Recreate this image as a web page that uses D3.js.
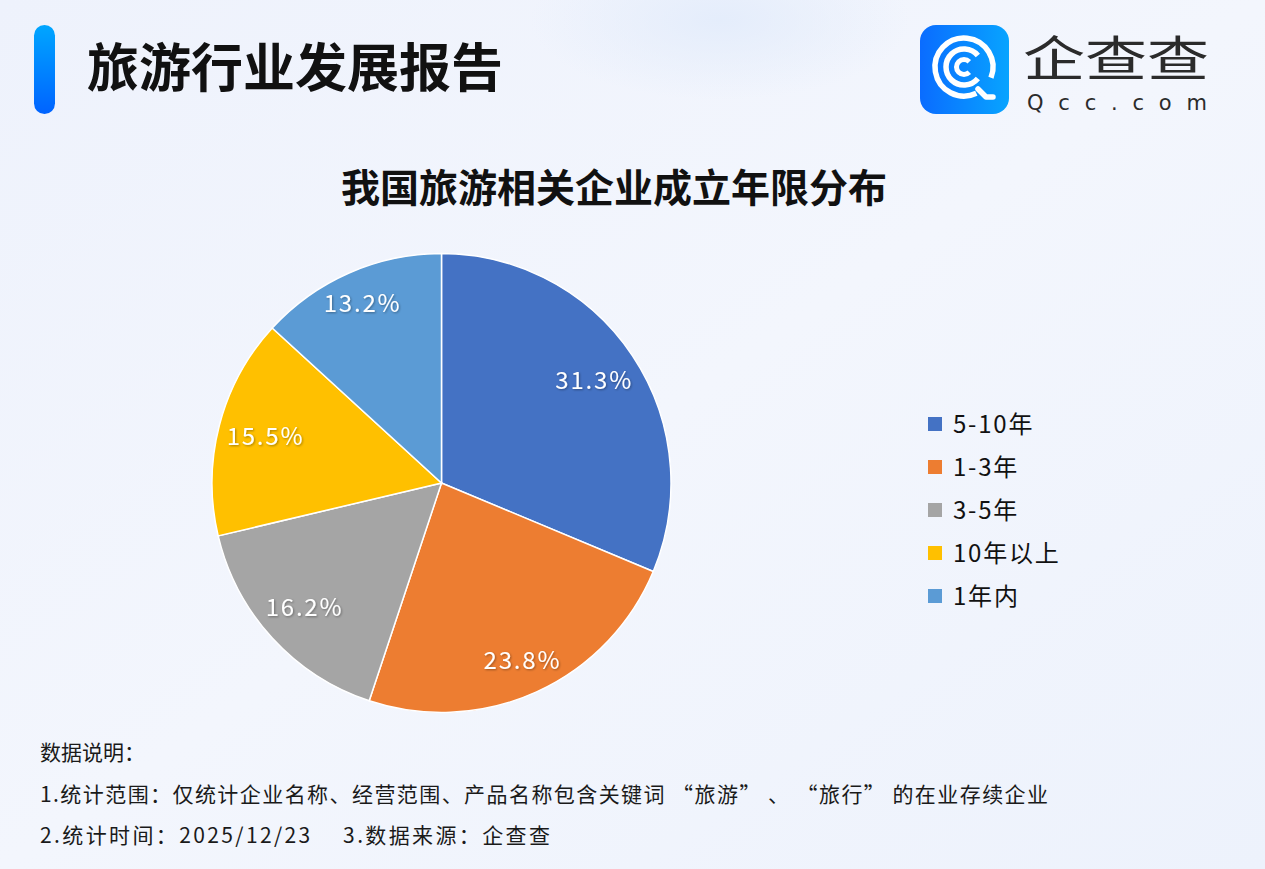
<!DOCTYPE html>
<html>
<head>
<meta charset="utf-8">
<script src="https://cdn.jsdelivr.net/npm/d3@7/dist/d3.min.js"></script>
<style>
  body { margin: 0; padding: 0; overflow: hidden; }
  svg { display: block; font-family: "Noto Sans CJK SC", "Noto Sans", sans-serif; }
</style>
</head>
<body>
<svg width="1265" height="869"></svg>
<script>
// data
var categories = ["5-10年", "1-3年", "3-5年", "10年以上", "1年内"];
var shares = [31.3, 23.8, 16.2, 15.5, 13.2];
var colors = ["#4472c4", "#ed7d31", "#a5a5a5", "#ffc000", "#5b9bd5"];
var notes = [
    "数据说明：",
    "1.统计范围：仅统计企业名称、经营范围、产品名称包含关键词 “旅游” 、 “旅行” 的在业存续企业",
    "2.统计时间：2025/12/23　  3.数据来源：企查查"
];
var noteWidths = [null, 1008, 510];

var svg = d3.select("svg"),
    width = +svg.attr("width"),
    height = +svg.attr("height");

var defs = svg.append("defs");

// background
var bg = defs.append("linearGradient").attr("id", "bg")
    .attr("x1", 0).attr("y1", 0).attr("x2", 1).attr("y2", 1);
bg.append("stop").attr("offset", "0%").attr("stop-color", "#eef2fc");
bg.append("stop").attr("offset", "50%").attr("stop-color", "#f3f6fd");
bg.append("stop").attr("offset", "100%").attr("stop-color", "#edf2fc");
svg.append("rect").attr("width", width).attr("height", height).attr("fill", "url(#bg)");
var glow = defs.append("radialGradient").attr("id", "glow");
glow.append("stop").attr("offset", "0%").attr("stop-color", "#e3ecfb").attr("stop-opacity", 0.9);
glow.append("stop").attr("offset", "100%").attr("stop-color", "#e3ecfb").attr("stop-opacity", 0);
svg.append("ellipse").attr("cx", 720).attr("cy", 20).attr("rx", 190).attr("ry", 80).attr("fill", "url(#glow)");

// header bar
var bar = defs.append("linearGradient").attr("id", "bar")
    .attr("x1", 0).attr("y1", 0).attr("x2", 0).attr("y2", 1);
bar.append("stop").attr("offset", "0%").attr("stop-color", "#00a6ff");
bar.append("stop").attr("offset", "100%").attr("stop-color", "#0063ff");
svg.append("rect").attr("x", 34).attr("y", 25).attr("width", 21).attr("height", 89)
    .attr("rx", 10.5).attr("fill", "url(#bar)");

svg.append("text").attr("x", 87).attr("y", 87)
    .style("font-size", "52px").style("font-weight", "bold").attr("fill", "#111")
    .text("旅游行业发展报告");

// logo
var logo = defs.append("linearGradient").attr("id", "logo")
    .attr("x1", 0).attr("y1", 0).attr("x2", 1).attr("y2", 0);
logo.append("stop").attr("offset", "0%").attr("stop-color", "#0a6cff");
logo.append("stop").attr("offset", "100%").attr("stop-color", "#08a4ff");
svg.append("rect").attr("x", 920).attr("y", 25).attr("width", 89).attr("height", 89)
    .attr("rx", 16).attr("fill", "url(#logo)");
var lg = svg.append("g").attr("transform", "translate(964,67)")
    .attr("fill", "none").attr("stroke", "#fff").attr("stroke-linecap", "round");
lg.append("path").attr("stroke-width", 5.5)
    .attr("d", d3.arc()({innerRadius: 29, outerRadius: 29, startAngle: 0.86 * Math.PI, endAngle: 2.62 * Math.PI}));
lg.append("path").attr("stroke-width", 5.5)
    .attr("d", d3.arc()({innerRadius: 18, outerRadius: 18, startAngle: 0.72 * Math.PI, endAngle: 2.28 * Math.PI}));
lg.append("path").attr("stroke-width", 5)
    .attr("d", d3.arc()({innerRadius: 7.5, outerRadius: 7.5, startAngle: 0.75 * Math.PI, endAngle: 2.25 * Math.PI}));
lg.append("path").attr("stroke-width", 5.5).attr("stroke-linejoin", "round")
    .attr("d", "M14,22 L22,30 L29,30");

// wordmark
svg.append("text").attr("x", 1023).attr("y", 76)
    .style("font-size", "48px").attr("fill", "#2b2b2b")
    .attr("textLength", 186).attr("lengthAdjust", "spacingAndGlyphs")
    .text("企查查");
svg.append("text").attr("x", 1027).attr("y", 110)
    .style("font-size", "21px").style("font-family", "DejaVu Sans").attr("fill", "#2b2b2b")
    .attr("textLength", 180).attr("lengthAdjust", "spacing")
    .text("Qcc.com");

// chart title
svg.append("text").attr("x", 614).attr("y", 202).attr("text-anchor", "middle")
    .style("font-size", "39px").style("font-weight", "bold").attr("fill", "#111")
    .text("我国旅游相关企业成立年限分布");

// pie
var cx = 441.5, cy = 483, r = 229.5;
var pie = d3.pie().sort(null).value(function(d) { return d; });
var arc = d3.arc().innerRadius(0).outerRadius(r);

var shadow = defs.append("filter").attr("id", "shadow")
    .attr("x", "-20%").attr("y", "-40%").attr("width", "140%").attr("height", "180%");
shadow.append("feDropShadow").attr("dx", 1).attr("dy", 1).attr("stdDeviation", 1)
    .attr("flood-color", "#000").attr("flood-opacity", 0.35);

var g = svg.append("g").attr("transform", "translate(" + cx + "," + cy + ")");
var arcs = pie(shares);

g.selectAll(".slice")
    .data(arcs)
    .enter().append("path")
    .attr("class", "slice")
    .attr("d", arc)
    .attr("fill", function(d, i) { return colors[i]; })
    .attr("stroke", "#fff")
    .attr("stroke-width", 1.5);

// labels: inside end, farthest corner of the text box kept ~7px inside the rim
g.selectAll(".lbl")
    .data(arcs)
    .enter().append("text")
    .attr("class", "lbl")
    .attr("text-anchor", "middle")
    .attr("dy", "0.33em")
    .attr("filter", "url(#shadow)")
    .style("font-size", "24px")
    .style("letter-spacing", "1.8px")
    .attr("fill", "#fff")
    .text(function(d) { return d.data.toFixed(1) + "%"; })
    .attr("transform", function(d) {
        var bb = this.getBBox();
        var a = (d.startAngle + d.endAngle) / 2;
        var sx = Math.sin(a), sy = -Math.cos(a);
        var proj = Math.abs(sx) * bb.width / 2 + Math.abs(sy) * 12;
        var dist = r - 7 - proj;
        return "translate(" + (sx * dist) + "," + (sy * dist) + ")";
    });

// legend
var y = d3.scalePoint().domain(categories).range([424, 596]);
var leg = svg.append("g").selectAll(".leg")
    .data(categories)
    .enter().append("g")
    .attr("class", "leg")
    .attr("transform", function(d) { return "translate(928," + y(d) + ")"; });
leg.append("rect").attr("x", 0).attr("y", -7).attr("width", 14).attr("height", 14)
    .attr("fill", function(d, i) { return colors[i]; });
leg.append("text").attr("x", 25).attr("dy", "0.36em")
    .style("font-size", "24px").style("letter-spacing", "1.8px").attr("fill", "#111")
    .text(function(d) { return d; });

// notes
svg.append("g").selectAll(".note")
    .data(notes)
    .enter().append("text")
    .attr("class", "note")
    .attr("x", 40)
    .attr("y", function(d, i) { return 760 + i * 41.5; })
    .style("font-size", "21px").attr("fill", "#1a1a1a")
    .each(function(d, i) {
        if (noteWidths[i]) d3.select(this).attr("textLength", noteWidths[i]).attr("lengthAdjust", "spacing");
    })
    .text(function(d) { return d; });
</script>
</body>
</html>
